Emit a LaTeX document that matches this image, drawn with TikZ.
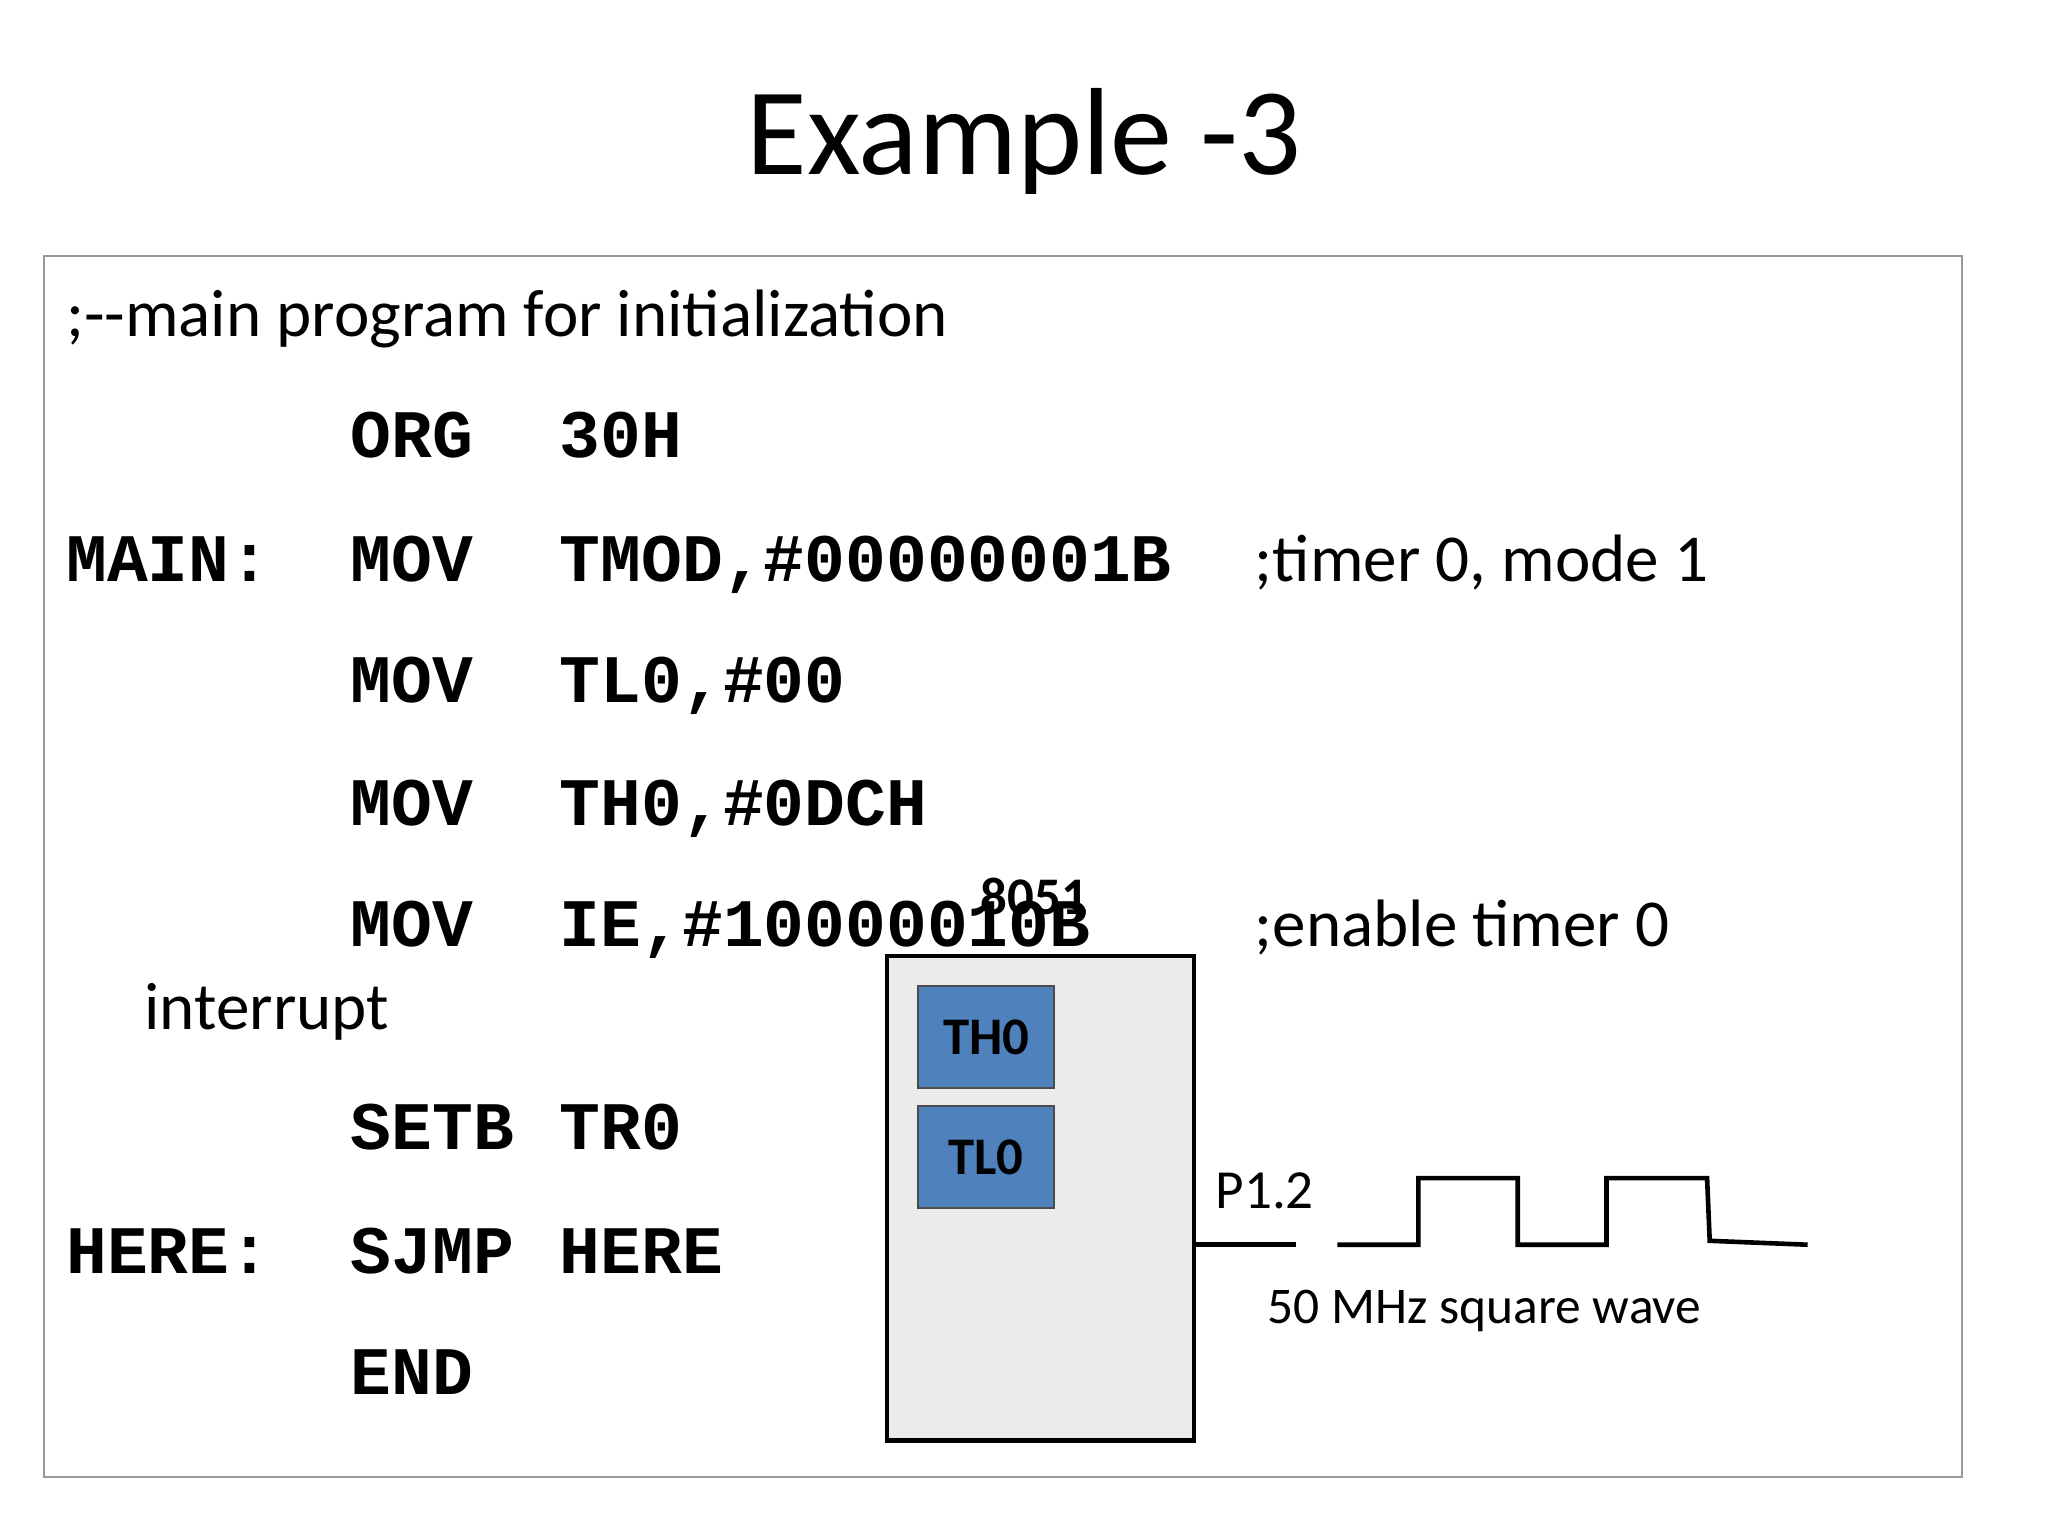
\documentclass[tikz,border=0pt]{standalone}
\usepackage{fontspec}
\setmainfont{Carlito}
\newfontfamily\codefont{Liberation Mono}
\begin{document}
\begin{tikzpicture}[x=0.01cm,y=-0.01cm,
  code/.style={anchor=base west,inner sep=0,font=\codefont\bfseries\fontsize{14.8pt}{16pt}\selectfont},
  txt/.style={anchor=base west,inner sep=0,font=\fontsize{14.6pt}{17pt}\selectfont},
  reg/.style={draw=black!70,fill={rgb,255:red,79;green,129;blue,189},font=\bfseries\fontsize{11.5pt}{13pt}\selectfont}]
\useasboundingbox (0,0) rectangle (1568,1176);
\node[font=\fontsize{27pt}{32pt}\selectfont] (title) at (784,108) {Example -3};
\draw[black!40] (34,196) rectangle (1502,1131);
\node[txt] (c0) at (50,258) {;-{}-main program for initialization};
\node[code] (m1) at (268,350) {ORG}; \node[code] (o1) at (428,350) {30H};
\node[code] (l2) at (50,445) {MAIN:}; \node[code] (m2) at (268,445) {MOV}; \node[code] (o2) at (428,445) {TMOD,\#00000001B};
\node[txt] (k2) at (960,445) {;timer 0, mode 1};
\node[code] (m3) at (268,538) {MOV}; \node[code] (o3) at (428,538) {TL0,\#00};
\node[code] (m4) at (268,632) {MOV}; \node[code] (o4) at (428,632) {TH0,\#0DCH};
\node[code] (m5) at (268,725) {MOV}; \node[code] (o5) at (428,725) {IE,\#10000010B};
\node[txt] (k5) at (960,725) {;enable timer 0};
\node[txt] (k6) at (110,788) {interrupt};
\node[code] (m7) at (268,880) {SETB}; \node[code] (o7) at (428,880) {TR0};
\node[code] (l8) at (50,975) {HERE:}; \node[code] (m8) at (268,975) {SJMP}; \node[code] (o8) at (428,975) {HERE};
\node[code] (m9) at (268,1068) {END};
\draw[line width=1pt,fill=black!8] (679,732) rectangle (914,1103);
\node[anchor=base,inner sep=0,font=\bfseries\fontsize{11.5pt}{13pt}\selectfont] (lbl) at (792,700) {8051};
\node[reg,minimum width=1.04cm,minimum height=0.78cm] (th) at (755,794) {TH0};
\node[reg,minimum width=1.04cm,minimum height=0.78cm] (tl) at (755,886) {TL0};
\coordinate (p0) at (914,953); \coordinate (p1) at (992,953);
\draw[line width=1pt] (p0) -- (p1);
\node[anchor=base west,inner sep=0,font=\fontsize{12pt}{14pt}\selectfont] (pl) at (930,925) {P1.2};
\coordinate (w0) at (1024,953);
\draw[line width=1pt] (w0) -- (1086,953) -- (1086,902) -- (1162,902) -- (1162,953) -- (1230,953) -- (1230,902) -- (1307,902) -- (1309,950) -- (1384,953);
\node[anchor=base west,inner sep=0,font=\fontsize{11.2pt}{13pt}\selectfont] (wl) at (970,1013) {50 MHz square wave};
\end{tikzpicture}
\end{document}
